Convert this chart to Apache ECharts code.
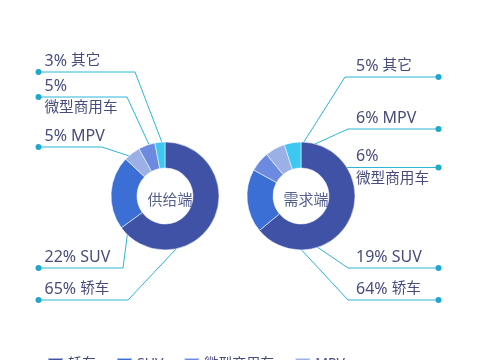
<!DOCTYPE html>
<html><head><meta charset="utf-8">
<script src="https://cdn.jsdelivr.net/npm/echarts@6/dist/echarts.min.js"></script>
<style>html,body{margin:0;padding:0;background:#fff}#c{width:480px;height:360px}</style>
</head><body><div id="c"></div>
<script>
// ---- data ----
const legendNames = ['轿车', 'SUV', '微型商用车', 'MPV'];
const centerTitles = ['供给端', '需求端'];
const supplyNames = ['轿车', 'SUV', 'MPV', '微型商用车', '其它'];
const supplyValues = [65, 22, 5, 5, 3];
const demandNames = ['轿车', 'SUV', '微型商用车', 'MPV', '其它'];
const demandValues = [64, 19, 6, 6, 5];

// ---- styles / layout (not data) ----
const colorMap = { '轿车': '#3f52a6', 'SUV': '#3c6fd6', '微型商用车': '#6c8be0', 'MPV': '#9bb0e6', '其它': '#3cc8f0' };
const FONT = '"Noto Sans", "Noto Sans CJK SC", sans-serif';
const TEXT = '#474c7c';
const LINE = '#2cb6d8';
const DOT = '#1ea8cc';

const supplyLayout = {
  side: 'left', labelX: 35.5, labelW: 100,
  labelY: [300, 268, 147, 97, 72],
  elbowX: [128, 123, 102, 127, 135],
  anchorT: [0.675, 0.41, 0.54, 0.66, 0.69],
  anchorR: [0.8, 0.19, 0.73, 0.9, 1.0]
};
const demandLayout = {
  side: 'right', labelX: 352, labelW: 89.5,
  labelY: [300, 268, 167.5, 129, 77],
  elbowX: [348, 348, null, 348, 345],
  anchorT: [0.82, 0.23, 0.9, 0.68, 0.97],
  anchorR: [0.7, 0.42, 0.4, 0.52, 0.8]
};

const chart = echarts.init(document.getElementById('c'), null, { renderer: 'canvas' });

function getLayout(seriesIndex, dataIndex, values, center, radius) {
  try {
    const l = chart.getModel().getSeriesByIndex(seriesIndex).getData().getItemLayout(dataIndex);
    if (l && isFinite(l.startAngle)) return l;
  } catch (e) {}
  const total = values.reduce((a, b) => a + b, 0);
  let cum = 0;
  for (let k = 0; k < dataIndex; k++) cum += values[k];
  const s = -Math.PI / 2 + cum / total * Math.PI * 2;
  return { cx: center[0], cy: center[1], r0: radius[0], r: radius[1], startAngle: s, endAngle: s + values[dataIndex] / total * Math.PI * 2 };
}

function makeLabelLayout(cfg, values, center, radius) {
  return function (params) {
    const i = params.dataIndex;
    const lay = getLayout(params.seriesIndex, i, values, center, radius);
    const a = lay.startAngle + cfg.anchorT[i] * (lay.endAngle - lay.startAngle);
    const r = lay.r0 + cfg.anchorR[i] * (lay.r - lay.r0);
    const ax = lay.cx + r * Math.cos(a), ay = lay.cy + r * Math.sin(a);
    const y = cfg.labelY[i];
    const ex = cfg.elbowX[i] == null ? ax : cfg.elbowX[i];
    const endX = cfg.side === 'left' ? cfg.labelX + 3 : cfg.labelX + cfg.labelW - 3;
    return {
      x: cfg.labelX, y: y, align: 'left', verticalAlign: 'middle',
      labelLinePoints: [[ax, ay], [ex, y], [endX, y]]
    };
  };
}

function isLatin(s) { return /^[\x00-\x7f]+$/.test(s); }

function makeFormatter(side) {
  return function (p) {
    const pre = side === 'left' ? 'pl' : 'pr';
    const nameTok = (isLatin(p.name) ? '{n|' : '{c|') + p.name + '}';
    const d = side === 'left' ? 'dl' : 'dr';
    if (p.name === '微型商用车') {
      return '{' + pre + '|}{n|' + p.value + '%}\n{' + d + '|\u00a0}\n{' + pre + '|}' + nameTok;
    }
    return '{' + pre + '|}{n|' + p.value + '% }' + nameTok + '\n{' + d + '|\u00a0}\n{n|\u00a0}';
  };
}

function makeSeries(names, values, center, cfg) {
  const radius = [28, 54];
  return {
    type: 'pie',
    center: center,
    radius: radius,
    startAngle: 90,
    clockwise: true,
    avoidLabelOverlap: false,
    animation: false,
    itemStyle: { borderColor: 'rgba(255,255,255,0.55)', borderWidth: 1 },
    emphasis: { disabled: true },
    data: names.map((n, i) => ({ name: n, value: values[i], itemStyle: { color: colorMap[n] } })),
    label: {
      show: true,
      width: cfg.labelW,
      formatter: makeFormatter(cfg.side),
      rich: {
        pl: { width: 9, lineHeight: 16, fontSize: 15 },
        pr: { width: 4, lineHeight: 16, fontSize: 15 },
        n: { fontFamily: FONT, fontSize: 16, color: TEXT, lineHeight: 16 },
        c: { fontFamily: FONT, fontSize: 14.6, color: TEXT, lineHeight: 16 },
        dl: { width: 6, height: 6, lineHeight: 6, fontSize: 6, borderRadius: 3, backgroundColor: DOT, align: 'left' },
        dr: { width: 6, height: 6, lineHeight: 6, fontSize: 6, borderRadius: 3, backgroundColor: DOT, align: 'right' }
      }
    },
    labelLine: { show: true, length: 10, length2: 10, smooth: false, lineStyle: { color: LINE, width: 1 } },
    labelLayout: makeLabelLayout(cfg, values, center, radius)
  };
}

const option = {
  backgroundColor: '#ffffff',
  animation: false,
  title: [
    { text: centerTitles[0], left: 165, top: 196, textAlign: 'center', textVerticalAlign: 'middle',
      textStyle: { fontFamily: FONT, fontSize: 15, fontWeight: 'normal', color: '#55608f' } },
    { text: centerTitles[1], left: 301, top: 196, textAlign: 'center', textVerticalAlign: 'middle',
      textStyle: { fontFamily: FONT, fontSize: 15, fontWeight: 'normal', color: '#55608f' } }
  ],
  legend: {
    data: legendNames,
    left: 42, top: 352,
    itemWidth: 15, itemHeight: 12, itemGap: 20,
    icon: 'rect',
    selectedMode: false,
    textStyle: { fontFamily: FONT, fontSize: 14, color: TEXT }
  },
  series: [
    makeSeries(supplyNames, supplyValues, [165, 196], supplyLayout),
    makeSeries(demandNames, demandValues, [301, 196], demandLayout)
  ]
};
chart.setOption(option);
</script></body></html>
